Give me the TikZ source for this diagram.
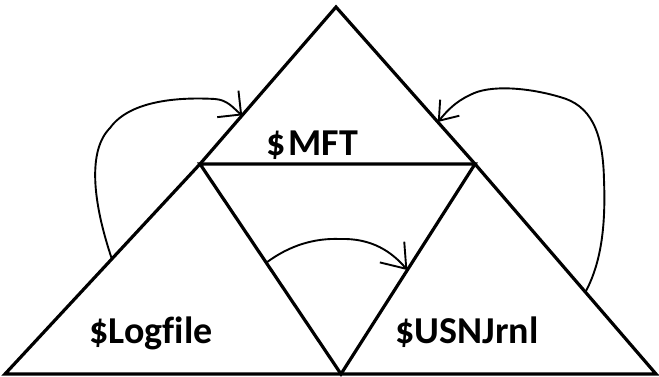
\documentclass[tikz,border=0pt]{standalone}
\usepackage{fontspec}
\setmainfont{Carlito}[Ligatures=CommonOff]
\usetikzlibrary{arrows.meta,calc}
\tikzset{
  edge/.style={line width=3.2pt, line join=miter, line cap=round},
  loop/.style={line width=1.9pt, line cap=round},
  lbl/.style={font=\bfseries\fontsize{38}{40}\selectfont, anchor=base, inner sep=0pt},
}
\begin{document}
\begin{tikzpicture}[x=1pt,y=-1pt]
\useasboundingbox (0,0) rectangle (659,376);
% vertices
\coordinate (A)  at (336,7);
\coordinate (L)  at (5,374);
\coordinate (R)  at (656,374);
\coordinate (ML) at (200,164);
\coordinate (MR) at (475,164);
\coordinate (MB) at (341,374);
% triangles
\draw[edge] (L) -- (ML) -- (A) -- (MR) -- (R) -- cycle;
\draw[edge] (ML) -- (MR) -- (MB) -- cycle;
% labels
\node[lbl] (mft) at (312,155) {\$\kern3pt MFT};
\node[lbl] (log) at (151,343) {\$Logfile};
\node[lbl] (usn) at (467,343) {\$USNJrnl};
% connector end points on the edges
\coordinate (s1) at ($(ML)!0.452!(L)$);
\coordinate (e1) at ($(ML)!0.31!(A)$);
\coordinate (s2) at ($(MR)!0.61!(R)$);
\coordinate (e2) at ($(A)!0.7325!(MR)$);
\coordinate (s3) at ($(ML)!0.47!(MB)$);
\coordinate (e3) at ($(MR)!0.505!(MB)$);
% loops
\draw[loop, -{Straight Barb[length=17pt,width=34pt,line width=1.9pt]}]
  (s1) .. controls (92,200) and (88,150) .. (110,128)
       .. controls (130,100) and (180,97) .. (215,99)
       .. controls (228,100) and (233,108) .. (e1);
\draw[loop, -{Straight Barb[length=17pt,width=25pt,line width=1.9pt]}]
  (s2) .. controls (600,265) and (606,230) .. (604,180)
       .. controls (603,130) and (590,105) .. (560,97)
       .. controls (530,88) and (490,84) .. (470,95)
       .. controls (455,102) and (447,111) .. (e2);
\draw[loop, -{Straight Barb[length=22pt,width=32pt,line width=1.9pt]}]
  (s3) .. controls (290,245) and (315,238) .. (340,239)
       .. controls (372,238) and (392,252) .. (e3);
\end{tikzpicture}
\end{document}
